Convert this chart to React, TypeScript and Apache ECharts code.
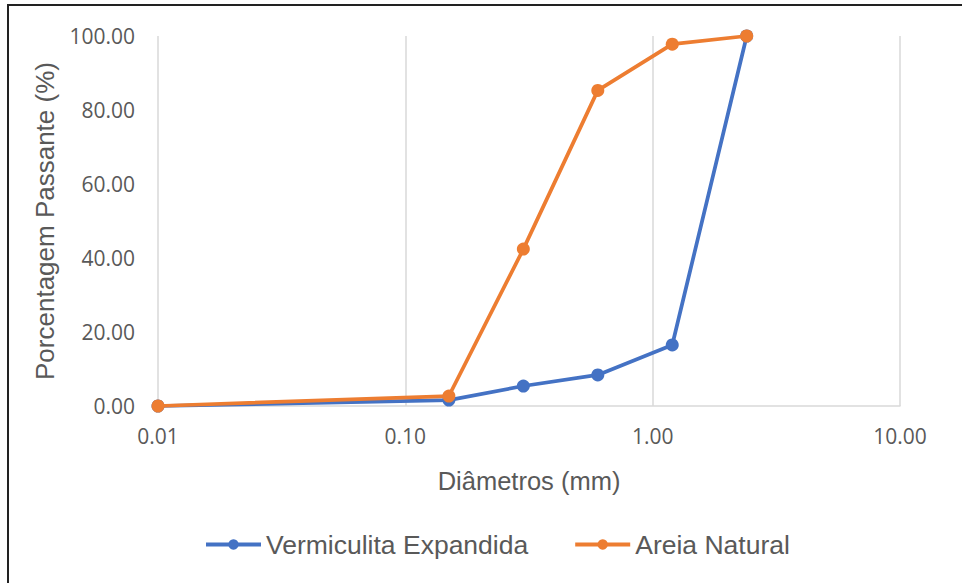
import React, { useEffect, useRef } from "react";
import * as echarts from "echarts";

const diameters = [0.01, 0.15, 0.3, 0.6, 1.2, 2.4];
const vermiculita = [0, 1.6, 5.4, 8.4, 16.5, 100];
const areia = [0, 2.7, 42.4, 85.3, 97.8, 100];
const seriesNames = ["Vermiculita Expandida", "Areia Natural"];
const colors = ["#4472C4", "#ED7D31"];

const TICK_FONT = "Open Sans";
const TITLE_FONT = "Liberation Sans";
const TXT = "#595959";

export default function App() {
  const ref = useRef<HTMLDivElement>(null);
  useEffect(() => {
    document.body.style.margin = "0";
    const chart = echarts.init(ref.current!, undefined, { renderer: "svg" });
    const mk = (name: string, vals: number[], color: string) => ({
      name,
      type: "line",
      data: diameters.map((d, i) => [d, vals[i]]),
      symbol: "circle",
      symbolSize: 13,
      lineStyle: { color, width: 3.75 },
      itemStyle: { color },
      z: name === seriesNames[1] ? 3 : 2,
    });
    chart.setOption({
      animation: false,
      backgroundColor: "#fff",
      textStyle: { fontFamily: TITLE_FONT },
      grid: { left: 158, right: 62, top: 36, bottom: 177, containLabel: false },
      xAxis: {
        type: "log",
        logBase: 10,
        min: 0.01,
        max: 10,
        name: "Diâmetros (mm)",
        nameLocation: "middle",
        nameGap: 62,
        nameTextStyle: { color: TXT, fontSize: 25.5, fontFamily: TITLE_FONT },
        axisLine: { show: true, lineStyle: { color: "#D9D9D9", width: 1.5 } },
        axisTick: { show: false },
        axisLabel: {
          color: TXT,
          fontSize: 21,
          fontFamily: TICK_FONT,
          margin: 19,
          formatter: (v: number) => v.toFixed(2),
        },
        splitLine: { show: true, lineStyle: { color: "#D9D9D9", width: 1.5 } },
      },
      yAxis: {
        type: "value",
        min: 0,
        max: 100,
        interval: 20,
        name: "Porcentagem Passante (%)",
        nameLocation: "middle",
        nameGap: 100,
        nameTextStyle: { color: TXT, fontSize: 26, fontFamily: TITLE_FONT },
        axisLine: { show: false },
        axisTick: { show: false },
        axisLabel: {
          color: TXT,
          fontSize: 21,
          fontFamily: TICK_FONT,
          margin: 23,
          formatter: (v: number) => v.toFixed(2),
        },
        splitLine: { show: false },
      },
      legend: {
        data: seriesNames,
        bottom: 20,
        left: 199,
        itemWidth: 55,
        itemHeight: 13,
        itemGap: 45,
        lineStyle: { width: 4 },
        textStyle: { color: TXT, fontSize: 26.5, fontFamily: TITLE_FONT },
      },
      graphic: [
        {
          type: "rect",
          shape: { x: 8, y: 5, width: 1100, height: 1000 },
          style: { fill: "none", stroke: "#222", lineWidth: 2 },
          silent: true,
        },
      ],
      series: [
        mk(seriesNames[0], vermiculita, colors[0]),
        mk(seriesNames[1], areia, colors[1]),
      ],
    });
    return () => chart.dispose();
  }, []);
  return <div ref={ref} style={{ width: 962, height: 583 }} />;
}
